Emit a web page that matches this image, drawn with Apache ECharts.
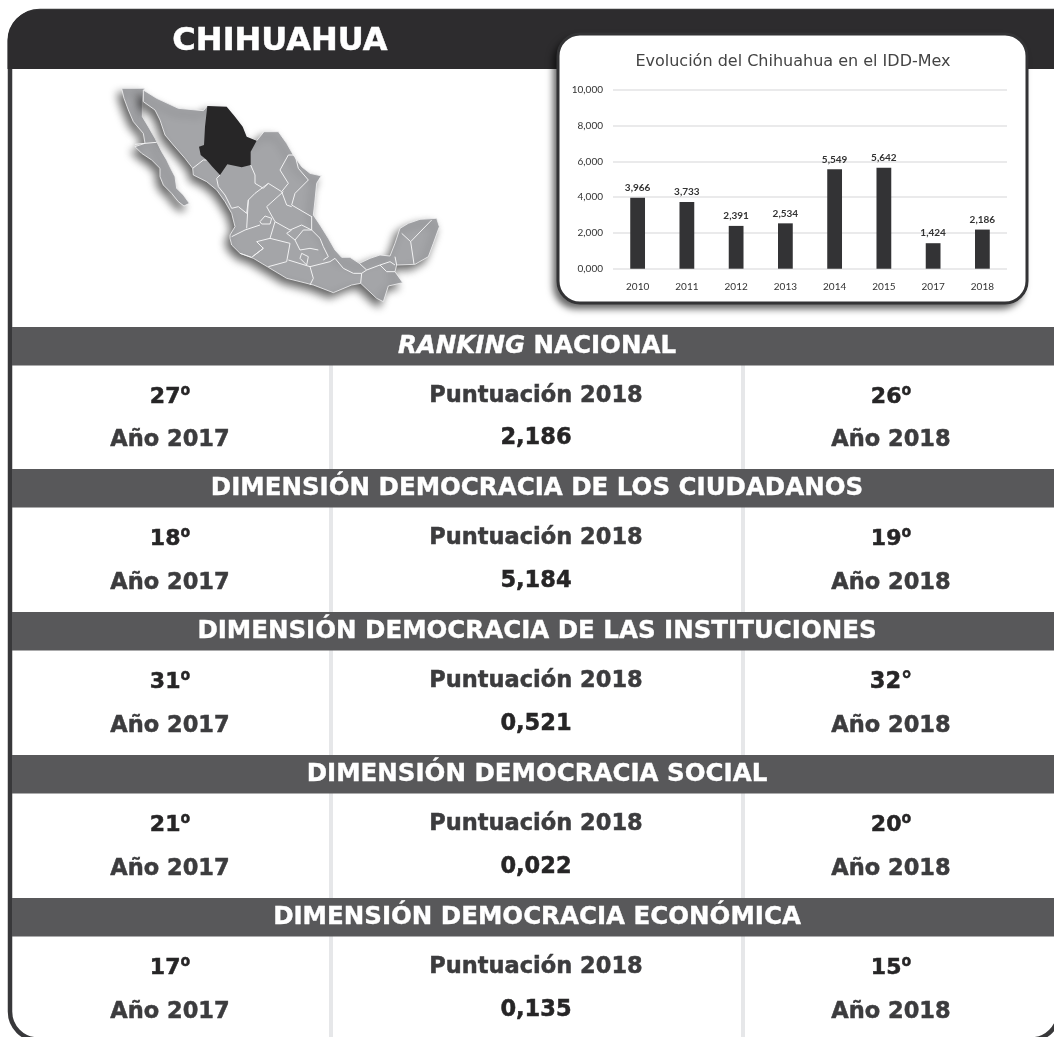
<!DOCTYPE html>
<html><head><meta charset="utf-8">
<style>html,body{margin:0;padding:0;background:#fff}#c{width:1054px;height:1037px}</style>
<script src="https://cdn.jsdelivr.net/npm/echarts@6/dist/echarts.min.js"></script>
</head><body><div id="c"></div>
<script>
const years=['2010','2011','2012','2013','2014','2015','2017','2018'];
const idd=[3.966,3.733,2.391,2.534,5.549,5.642,1.424,2.186];
const stateName='CHIHUAHUA';
const chartTitle='Evolución del Chihuahua en el IDD-Mex';
const sectionTitles=['{i|RANKING} NACIONAL','DIMENSIÓN DEMOCRACIA DE LOS CIUDADANOS','DIMENSIÓN DEMOCRACIA DE LAS INSTITUCIONES','DIMENSIÓN DEMOCRACIA SOCIAL','DIMENSIÓN DEMOCRACIA ECONÓMICA'];
const rank2017=['27º','18º','31º','21º','17º'];
const rank2018=['26º','19º','32°','20º','15º'];
const scores2018=['2,186','5,184','0,521','0,022','0,135'];

const DARK='#2d2c2e',BAND='#58585a',TXT='#3c3c3e',RANK='#262526',MAPG='#a4a5a8';
const comma=v=>v.toFixed(3).replace('.',',');
const els=[];
els.push({type:'rect',z:0,shape:{x:10,y:11,width:1049,height:1028.5,r:[30,0,28,28]},style:{fill:'#fff',stroke:'#38383a',lineWidth:4.5}});
els.push({type:'rect',z:1,shape:{x:7.5,y:10,width:1060,height:59,r:[30,0,0,0]},style:{fill:DARK}});
els.push({type:'text',z:2,x:280,y:42,style:{text:stateName,fill:'#fff',stroke:'#fff',lineWidth:.5,font:'bold 32px "DejaVu Sans"',align:'center',verticalAlign:'middle'}});
const A=p=>p.map(q=>[110+q[0]/3,80+q[1]/3]);
const B=p=>p.map(q=>[220+q[0]/3,150+q[1]/3]);
const baja=A([[35,25],[103,25],[97,65],[97,110],[115,140],[135,175],[145,195],[155,215],[170,240],[182,265],[195,290],[200,325],[220,345],[238,370],[222,378],[205,365],[185,340],[160,315],[150,290],[150,265],[125,240],[95,220],[75,200],[105,190],[100,160],[70,125],[55,90],[42,55]]);
const mainland=A([[100,30],[140,55],[205,85],[280,92],[292,78],[350,80],[375,110],[398,140],[410,170],[440,182],[462,155],[505,155],[530,190],[550,225],[575,260],[600,280],[635,288]])
 .concat(B([[305,75],[290,100],[285,150],[280,195],[300,225],[325,265],[345,300],[365,322],[390,322],[418,340],[450,325],[480,315],[510,318],[525,280],[540,235],[565,220],[600,208],[650,205],[658,230],[640,280],[625,320],[585,343],[530,345],[525,365],[548,398],[505,408],[490,455],[470,445],[422,400],[395,405],[340,428],[280,405],[200,385],[145,352],[100,325],[60,310],[35,285],[30,265]]))
 .concat(A([[360,465],[375,440],[365,400],[345,365],[320,330],[290,305],[250,285],[248,265],[225,235],[190,195],[165,165],[150,120],[135,90],[100,65]]));
const chih=A([[292,78],[350,80],[375,110],[398,140],[410,170],[440,182],[422,215],[422,255],[395,262],[352,253],[330,285],[305,258],[290,240],[272,225],[267,200],[282,195],[285,140]]);
const bordersA=[
 [[75,193],[105,190],[140,187]],
 [[248,265],[280,240],[290,240]],
 [[330,285],[320,295],[325,320],[345,345],[365,385],[385,380],[410,400]],
 [[422,255],[435,285],[435,310],[460,325],[475,310],[515,335]],
 [[410,400],[415,360],[435,340],[475,310]],
 [[555,225],[535,225],[510,270],[535,310],[515,335]],
 [[555,225],[565,265],[595,300],[555,340],[545,375],[605,410]],
 [[515,335],[530,375],[545,380]]
];
const bordersB=[
 [[190,125],[140,170],[165,215],[150,265],[110,275],[130,295],[100,318]],
 [[35,260],[75,240],[90,235],[120,225]],
 [[120,215],[135,198],[155,205],[150,222],[125,222],[120,215]],
 [[85,150],[80,235]],
 [[165,215],[210,240],[245,225],[275,240],[275,198]],
 [[150,265],[210,280],[200,335],[145,350]],
 [[225,270],[200,250],[215,240]],
 [[225,270],[250,240],[275,240],[300,265],[310,290],[325,320],[310,330]],
 [[270,350],[280,385],[270,405]],
 [[205,330],[270,350],[330,335],[345,325],[370,355],[400,370],[425,370]],
 [[240,325],[260,345],[265,320],[245,310],[240,325]],
 [[225,270],[240,300],[270,295],[295,300]],
 [[418,340],[440,360],[480,345],[510,335],[525,345]],
 [[440,360],[425,370],[422,400]],
 [[480,345],[500,365],[525,365]],
 [[545,250],[572,275],[635,210]],
 [[572,275],[582,342]],
 [[525,320],[530,345]],
 [[60,310],[95,322],[130,295]]
];
const shadow={shadowBlur:8,shadowColor:'rgba(0,0,0,.6)',shadowOffsetX:-4,shadowOffsetY:5};
[baja,mainland].forEach(p=>els.push({type:'polygon',z:2,shape:{points:p},style:Object.assign({fill:MAPG,stroke:'#f4f4f5',lineWidth:.8},shadow)}));
bordersA.map(A).concat(bordersB.map(B)).forEach(b=>els.push({type:'polyline',z:3,shape:{points:b},style:{fill:null,stroke:'#f2f2f3',lineWidth:1}}));
els.push({type:'polygon',z:4,shape:{points:chih},style:{fill:'#272627'}});
// chart card: shadow plate, then border
els.push({type:'rect',z:5,shape:{x:557,y:33,width:471,height:271,r:23},style:{fill:'#333',shadowBlur:7,shadowColor:'rgba(0,0,0,.6)',shadowOffsetX:-4,shadowOffsetY:5}});
els.push({type:'rect',z:6,shape:{x:558,y:34,width:469,height:269,r:22},style:{fill:'#fff',stroke:'#333335',lineWidth:3}});
// sections
const bandY=[327,469,612,755,898];
const rowA=[397,539,682,825,968];
const rowB=[440,583,726,869,1012];
const ord=s=>/º/.test(s)?'{d|'+s.replace('º','')+'}{o|º}':s;
const ordRich={d:{fontFamily:'DejaVu Sans',fontWeight:'bold',fontSize:22,fill:RANK,stroke:RANK,lineWidth:.5},o:{fontFamily:'Open Sans',fontWeight:'bold',fontSize:25,fill:RANK}};
sectionTitles.forEach((t,i)=>{
  const y0=bandY[i], next=i<4?bandY[i+1]:1037;
  [331,743].forEach(x=>els.push({type:'rect',z:1,shape:{x:x-2,y:y0+38,width:4,height:next-y0-38},style:{fill:'#e6e7e9'}}));
  els.push({type:'rect',z:2,shape:{x:12,y:y0,width:1050,height:38.5},style:{fill:BAND}});
  els.push({type:'text',z:3,x:537,y:y0+20,style:{text:t,fill:'#fff',stroke:'#fff',lineWidth:.4,font:'bold 24.5px "DejaVu Sans"',align:'center',verticalAlign:'middle',rich:{i:{fontStyle:'italic',fontWeight:'bold',fontSize:24.5,fontFamily:'DejaVu Sans',fill:'#fff'}}}});
  const cell=(txt,x,y,c)=>els.push({type:'text',z:3,x,y,style:{text:txt,fill:c||TXT,stroke:c||TXT,lineWidth:.5,font:'bold 22.5px "DejaVu Sans"',align:'center',verticalAlign:'middle',rich:ordRich}});
  cell(ord(rank2017[i]),170,rowA[i],RANK);
  cell('Año 2017',170,rowB[i]);
  cell('Puntuación 2018',536,rowA[i]-1);
  cell(scores2018[i],536,rowB[i]-2,RANK);
  cell(ord(rank2018[i]),891,rowA[i],RANK);
  cell('Año 2018',891,rowB[i]);
});
const chart=echarts.init(document.getElementById('c'),null,{renderer:'canvas'});
chart.setOption({
  animation:false,
  backgroundColor:'#fff',
  title:{text:chartTitle,left:788,top:49,textAlign:'center',textStyle:{fontFamily:'DejaVu Sans',fontSize:16,fontWeight:'normal',color:'#444'},z:8},
  graphic:{elements:els},
  grid:{left:613,top:89.7,width:394,height:179,z:8},
  xAxis:{type:'category',data:years,z:8,axisLine:{show:false},axisTick:{show:false},
    axisLabel:{fontFamily:'Lato',fontSize:10,color:'#333',margin:13}},
  yAxis:{type:'value',min:0,max:10,interval:2,z:8,axisLine:{show:false},axisTick:{show:false},
    axisLabel:{fontFamily:'Lato',fontSize:10,color:'#333',margin:10,formatter:comma},
    splitLine:{show:true,lineStyle:{color:'#e3e3e4',width:1.5}}},
  series:[{type:'bar',data:idd,barWidth:'30%',z:9,itemStyle:{color:'#333335'},
    label:{show:true,position:'top',distance:5,fontFamily:'Lato',fontSize:10,fontWeight:'bold',color:'#333',formatter:p=>comma(p.value)}}]
});
</script></body></html>
